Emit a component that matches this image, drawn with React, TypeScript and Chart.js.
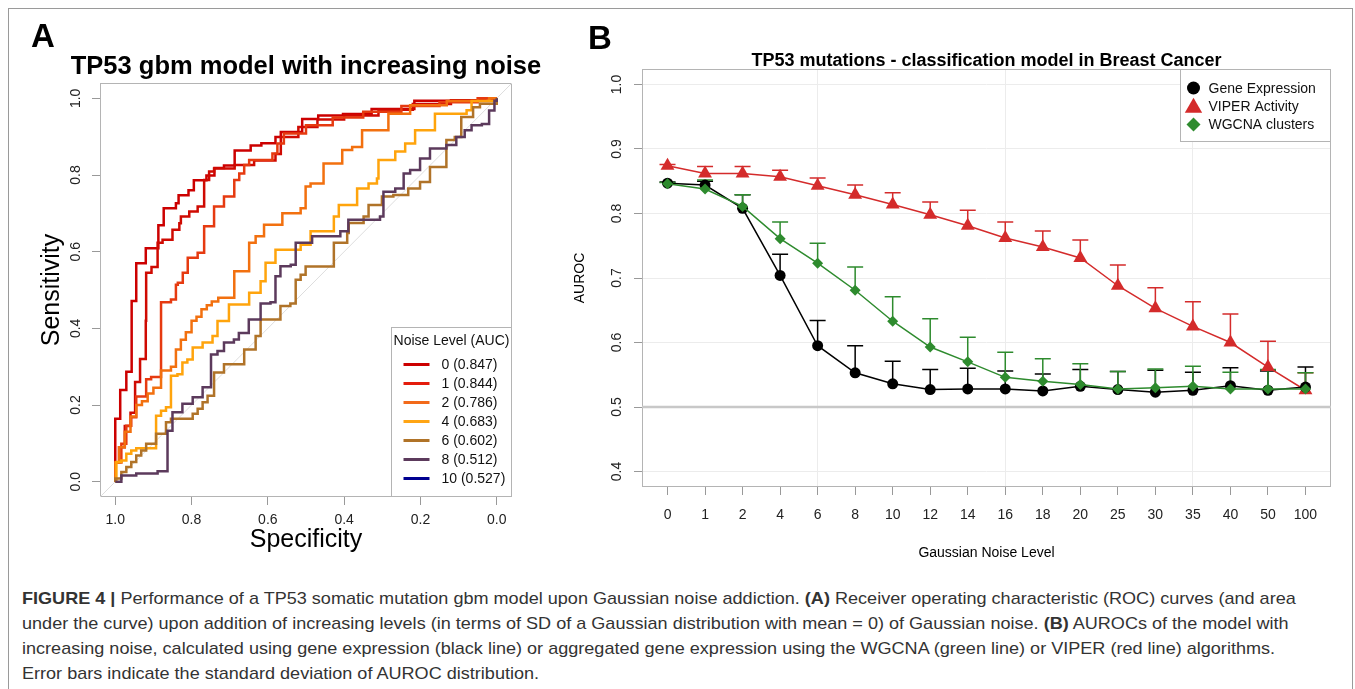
import React, { useEffect, useLayoutEffect, useRef, useState } from 'react';
import { Chart, registerables } from 'chart.js';

Chart.register(...registerables);

const FONT = '"Liberation Sans", Arial, Helvetica, sans-serif';
Chart.defaults.font.family = FONT;

// ---------------- Panel A data (ROC curves: [specificity, sensitivity]) ----------------
const specTicks = [0, 0.2, 0.4, 0.6, 0.8, 1.0];
const sensTicks = [0, 0.2, 0.4, 0.6, 0.8, 1.0];
const noiseLevelsA = ['0', '1', '2', '4', '6', '8', '10'];
const aucA = ['0.847', '0.844', '0.786', '0.683', '0.602', '0.512', '0.527'];
const legendColorsA = ['#CC0000', '#E41C0C', '#F26A1A', '#FFA514', '#B07328', '#5C3A5C', '#000090'];
const curveColorsA = ['#CC0000', '#CF0A02', '#E63A10', '#F2700F', '#FFA40C', '#B07328', '#5C3A5C'];

const roc0 = [[1, 0], [1, 0.164], [0.987, 0.239], [0.971, 0.287], [0.957, 0.471], [0.945, 0.57], [0.92, 0.609], [0.887, 0.669], [0.873, 0.713], [0.841, 0.726], [0.834, 0.747], [0.808, 0.76], [0.794, 0.786], [0.761, 0.799], [0.74, 0.818], [0.715, 0.825], [0.687, 0.864], [0.645, 0.877], [0.617, 0.883], [0.58, 0.899], [0.566, 0.912], [0.51, 0.946], [0.468, 0.955], [0.403, 0.959], [0.328, 0.972], [0.216, 0.994], [0.011, 1], [0, 1]];
const roc1 = [[1, 0], [1, 0.05], [0.99, 0.09], [0.975, 0.145], [0.96, 0.18], [0.948, 0.26], [0.935, 0.32], [0.92, 0.42], [0.919, 0.545], [0.905, 0.56], [0.889, 0.623], [0.876, 0.631], [0.85, 0.657], [0.832, 0.674], [0.828, 0.692], [0.806, 0.705], [0.784, 0.718], [0.767, 0.787], [0.754, 0.809], [0.741, 0.817], [0.687, 0.826], [0.636, 0.838], [0.58, 0.855], [0.566, 0.899], [0.52, 0.925], [0.47, 0.945], [0.4, 0.955], [0.31, 0.97], [0.22, 0.985], [0.12, 0.995], [0.03, 1], [0, 1]];
const roc2 = [[1, 0], [1, 0.05], [0.984, 0.099], [0.971, 0.146], [0.958, 0.168], [0.945, 0.222], [0.919, 0.267], [0.906, 0.273], [0.88, 0.468], [0.854, 0.475], [0.841, 0.514], [0.836, 0.519], [0.823, 0.545], [0.81, 0.584], [0.784, 0.597], [0.767, 0.666], [0.741, 0.718], [0.715, 0.744], [0.688, 0.787], [0.675, 0.804], [0.662, 0.826], [0.649, 0.839], [0.588, 0.856], [0.575, 0.882], [0.558, 0.908], [0.5, 0.93], [0.43, 0.95], [0.35, 0.965], [0.25, 0.98], [0.15, 0.99], [0.05, 1], [0, 1]];
const roc4 = [[1, 0], [1, 0.05], [0.99, 0.09], [0.975, 0.13], [0.96, 0.17], [0.945, 0.2], [0.93, 0.21], [0.915, 0.23], [0.9, 0.245], [0.88, 0.29], [0.854, 0.3], [0.841, 0.345], [0.828, 0.37], [0.815, 0.39], [0.8, 0.42], [0.787, 0.43], [0.774, 0.45], [0.76, 0.46], [0.747, 0.47], [0.73, 0.48], [0.688, 0.549], [0.649, 0.623], [0.632, 0.64], [0.61, 0.67], [0.562, 0.7], [0.514, 0.713], [0.501, 0.77], [0.488, 0.778], [0.454, 0.83], [0.405, 0.865], [0.379, 0.873], [0.353, 0.917], [0.284, 0.96], [0.227, 0.982], [0.131, 0.993], [0.02, 1], [0, 1]];
const roc6 = [[1, 0], [0.997, 0.051], [0.984, 0.055], [0.971, 0.073], [0.958, 0.081], [0.945, 0.087], [0.893, 0.172], [0.88, 0.185], [0.867, 0.194], [0.854, 0.276], [0.837, 0.28], [0.824, 0.311], [0.811, 0.319], [0.797, 0.35], [0.771, 0.363], [0.745, 0.38], [0.732, 0.419], [0.702, 0.462], [0.649, 0.493], [0.619, 0.523], [0.606, 0.571], [0.58, 0.605], [0.514, 0.618], [0.488, 0.653], [0.427, 0.692], [0.414, 0.722], [0.366, 0.765], [0.336, 0.778], [0.314, 0.791], [0.31, 0.839], [0.266, 0.861], [0.24, 0.882], [0.214, 0.917], [0.162, 0.96], [0.079, 0.969], [0.066, 0.993], [0, 1]];
const roc8 = [[1, 0], [1, 0.008], [0.984, 0.025], [0.971, 0.038], [0.958, 0.051], [0.945, 0.068], [0.932, 0.081], [0.919, 0.099], [0.893, 0.125], [0.867, 0.155], [0.854, 0.164], [0.797, 0.177], [0.784, 0.19], [0.771, 0.207], [0.758, 0.224], [0.741, 0.285], [0.715, 0.306], [0.662, 0.345], [0.632, 0.38], [0.619, 0.423], [0.567, 0.458], [0.541, 0.465], [0.527, 0.527], [0.514, 0.54], [0.501, 0.561], [0.427, 0.623], [0.392, 0.649], [0.388, 0.675], [0.349, 0.692], [0.336, 0.722], [0.301, 0.744], [0.271, 0.748], [0.232, 0.765], [0.201, 0.782], [0.175, 0.821], [0.132, 0.891], [0.11, 0.899], [0.093, 0.951], [0.062, 0.977], [0.044, 0.986], [0, 1]];
const roc10 = [[1, 0], [0.984, 0.016], [0.945, 0.021], [0.889, 0.027], [0.863, 0.133], [0.85, 0.181], [0.824, 0.203], [0.797, 0.22], [0.771, 0.246], [0.749, 0.332], [0.732, 0.341], [0.715, 0.363], [0.689, 0.371], [0.676, 0.388], [0.65, 0.423], [0.619, 0.465], [0.593, 0.468], [0.58, 0.536], [0.567, 0.562], [0.54, 0.566], [0.527, 0.623], [0.484, 0.64], [0.41, 0.653], [0.389, 0.683], [0.306, 0.692], [0.297, 0.756], [0.266, 0.765], [0.244, 0.804], [0.227, 0.813], [0.201, 0.843], [0.175, 0.869], [0.132, 0.878], [0.106, 0.899], [0.084, 0.917], [0.066, 0.93], [0.039, 0.933], [0.02, 0.968], [0.006, 0.994], [0, 1]];
const rocCurves = [roc0, roc1, roc2, roc4, roc6, roc8, roc10];
const diagonal = [[1.04, -0.04], [-0.04, 1.04]];

// ---------------- Panel B data ----------------
const noiseLevelsB = ['0', '1', '2', '4', '6', '8', '10', '12', '14', '16', '18', '20', '25', '30', '35', '40', '50', '100'];
const aurocTicks = [0.4, 0.5, 0.6, 0.7, 0.8, 0.9, 1.0];
const geneExpr = [0.847, 0.844, 0.808, 0.704, 0.595, 0.553, 0.536, 0.527, 0.528, 0.528, 0.525, 0.532, 0.527, 0.523, 0.526, 0.533, 0.526, 0.531];
const geneExprSd = [0.002, 0.006, 0.021, 0.033, 0.039, 0.042, 0.035, 0.031, 0.032, 0.028, 0.026, 0.026, 0.028, 0.034, 0.028, 0.028, 0.03, 0.031];
const viper = [0.874, 0.862, 0.862, 0.857, 0.843, 0.829, 0.814, 0.798, 0.781, 0.762, 0.748, 0.731, 0.688, 0.653, 0.625, 0.6, 0.562, 0.526];
const viperSd = [0.002, 0.011, 0.011, 0.01, 0.012, 0.015, 0.018, 0.02, 0.024, 0.025, 0.025, 0.028, 0.032, 0.032, 0.038, 0.044, 0.04, 0.027];
const wgcna = [0.846, 0.838, 0.811, 0.761, 0.723, 0.681, 0.633, 0.593, 0.57, 0.546, 0.54, 0.535, 0.528, 0.53, 0.532, 0.528, 0.528, 0.528];
const wgcnaSd = [0.002, 0.014, 0.018, 0.026, 0.031, 0.036, 0.038, 0.044, 0.038, 0.039, 0.035, 0.032, 0.027, 0.029, 0.031, 0.026, 0.03, 0.025];
const seriesNamesB = ['Gene Expression', 'VIPER Activity', 'WGCNA clusters'];
const seriesColorsB = ['#000000', '#D42B2B', '#2E8B2E'];
const seriesStylesB = ['circle', 'triangle', 'rectRot'];

const captionLines = [
  [['FIGURE 4 | ', true], ['Performance of a TP53 somatic mutation gbm model upon Gaussian noise addiction. ', false], ['(A)', true], [' Receiver operating characteristic (ROC) curves (and area', false]],
  [['under the curve) upon addition of increasing levels (in terms of SD of a Gaussian distribution with mean = 0) of Gaussian noise. ', false], ['(B)', true], [' AUROCs of the model with', false]],
  [['increasing noise, calculated using gene expression (black line) or aggregated gene expression using the WGCNA (green line) or VIPER (red line) algorithms.', false]],
  [['Error bars indicate the standard deviation of AUROC distribution.', false]],
] as [string, boolean][][];

function drawMarker(ctx: CanvasRenderingContext2D, style: string, x: number, y: number, r: number, color: string) {
  ctx.fillStyle = color;
  ctx.beginPath();
  if (style === 'circle') {
    ctx.arc(x, y, r, 0, Math.PI * 2);
  } else if (style === 'triangle') {
    for (let k = 0; k < 3; k++) {
      const a = (k * 2 * Math.PI) / 3;
      const px = x + Math.sin(a) * r;
      const py = y - Math.cos(a) * r;
      if (k === 0) ctx.moveTo(px, py); else ctx.lineTo(px, py);
    }
    ctx.closePath();
  } else {
    ctx.moveTo(x - r, y); ctx.lineTo(x, y - r); ctx.lineTo(x + r, y); ctx.lineTo(x, y + r); ctx.closePath();
  }
  ctx.fill();
}

const boxPlugin = {
  id: 'plotBox',
  beforeDatasetsDraw(chart: any) {
    const { ctx, chartArea: a } = chart;
    ctx.save();
    ctx.strokeStyle = '#B4B4B4';
    ctx.lineWidth = 1;
    ctx.strokeRect(Math.round(a.left) + 0.5, Math.round(a.top) + 0.5, Math.round(a.right - a.left) - 1, Math.round(a.bottom - a.top) - 1);
    ctx.restore();
  },
};

function rotatedYLabels(offset: number, size: number) {
  return {
    id: 'rotatedYLabels',
    afterDraw(chart: any) {
      const sc = chart.scales.y;
      const ctx = chart.ctx;
      ctx.save();
      ctx.font = `${size}px ${FONT}`;
      ctx.fillStyle = '#222';
      ctx.textAlign = 'center';
      ctx.textBaseline = 'middle';
      for (const t of sc.ticks) {
        const py = sc.getPixelForValue(t.value);
        ctx.save();
        ctx.translate(chart.chartArea.left - offset, py);
        ctx.rotate(-Math.PI / 2);
        ctx.fillText(Number(t.value).toFixed(1), 0, 0);
        ctx.restore();
      }
      ctx.restore();
    },
  };
}

const legendAPlugin = {
  id: 'legendA',
  afterDraw(chart: any) {
    const { ctx, chartArea: a } = chart;
    const right = Math.round(a.right) - 0.5;
    const bottom = Math.round(a.bottom) - 0.5;
    const left = right - 120;
    const top = bottom - 169;
    ctx.save();
    ctx.fillStyle = '#fff';
    ctx.fillRect(left, top, right - left, bottom - top);
    ctx.strokeStyle = '#B4B4B4';
    ctx.lineWidth = 1;
    ctx.strokeRect(left, top, right - left, bottom - top);
    ctx.font = `14px ${FONT}`;
    ctx.fillStyle = '#111';
    ctx.textBaseline = 'middle';
    ctx.textAlign = 'center';
    ctx.fillText('Noise Level (AUC)', (left + right) / 2, top + 14);
    ctx.textAlign = 'left';
    noiseLevelsA.forEach((lv, i) => {
      const y = top + 37 + i * 19;
      ctx.strokeStyle = legendColorsA[i];
      ctx.lineWidth = 3;
      ctx.beginPath();
      ctx.moveTo(left + 12, y);
      ctx.lineTo(left + 38, y);
      ctx.stroke();
      ctx.fillText(`${lv} (${aucA[i]})`, left + 50, y + 1);
    });
    ctx.restore();
  },
};

const errorBarPlugin = {
  id: 'errorBars',
  beforeDatasetsDraw(chart: any) {
    const { ctx } = chart;
    const xs = chart.scales.x;
    const ys = chart.scales.y;
    const sets = [
      { v: viper, sd: viperSd, c: seriesColorsB[1] },
      { v: geneExpr, sd: geneExprSd, c: seriesColorsB[0] },
      { v: wgcna, sd: wgcnaSd, c: seriesColorsB[2] },
    ];
    ctx.save();
    // reference line at 0.5
    const y5 = ys.getPixelForValue(0.5);
    ctx.strokeStyle = '#C8C8C8';
    ctx.lineWidth = 2.5;
    ctx.beginPath();
    ctx.moveTo(chart.chartArea.left, y5);
    ctx.lineTo(chart.chartArea.right, y5);
    ctx.stroke();
    ctx.lineWidth = 1.5;
    for (const s of sets) {
      ctx.strokeStyle = s.c;
      s.v.forEach((val, i) => {
        const px = xs.getPixelForValue(i + 1);
        const p0 = ys.getPixelForValue(val);
        const p1 = ys.getPixelForValue(val + s.sd[i]);
        ctx.beginPath();
        ctx.moveTo(px, p0);
        ctx.lineTo(px, p1);
        ctx.moveTo(px - 8, p1);
        ctx.lineTo(px + 8, p1);
        ctx.stroke();
      });
    }
    ctx.restore();
  },
};

const legendBPlugin = {
  id: 'legendB',
  afterDraw(chart: any) {
    const { ctx, chartArea: a } = chart;
    const right = Math.round(a.right) - 0.5;
    const top = Math.round(a.top) + 0.5;
    const left = right - 150;
    const bottom = top + 72;
    ctx.save();
    ctx.fillStyle = '#fff';
    ctx.fillRect(left, top, right - left, bottom - top);
    ctx.strokeStyle = '#B4B4B4';
    ctx.lineWidth = 1;
    ctx.strokeRect(left, top, right - left, bottom - top);
    ctx.font = `14px ${FONT}`;
    ctx.textBaseline = 'middle';
    ctx.textAlign = 'left';
    const radii = [6.5, 10, 7];
    seriesNamesB.forEach((name, i) => {
      const y = top + 18.5 + i * 18.3;
      drawMarker(ctx, seriesStylesB[i], left + 13, y + (i === 1 ? 1.5 : 0), radii[i], seriesColorsB[i]);
      ctx.fillStyle = '#111';
      ctx.fillText(name, left + 28, y + 1);
    });
    ctx.restore();
  },
};

function Txt(props: { x: number; base: number; size: number; bold?: boolean; center?: boolean; children: any }) {
  const { x, base, size, bold, center, children } = props;
  return (
    <div
      style={{
        position: 'absolute',
        left: x,
        top: base - 0.8465 * size,
        fontSize: size,
        lineHeight: `${size}px`,
        fontWeight: bold ? 'bold' : 'normal',
        fontFamily: FONT,
        whiteSpace: 'nowrap',
        color: '#000',
        transform: center ? 'translateX(-50%)' : undefined,
      }}
    >
      {children}
    </div>
  );
}

function VTxt(props: { cx: number; cy: number; size: number; children: any }) {
  const { cx, cy, size, children } = props;
  return (
    <div
      style={{
        position: 'absolute',
        left: cx,
        top: cy,
        fontSize: size,
        lineHeight: `${size}px`,
        fontFamily: FONT,
        whiteSpace: 'nowrap',
        color: '#000',
        transform: 'translate(-50%, -50%) rotate(-90deg)',
      }}
    >
      {children}
    </div>
  );
}

export default function App() {
  const aRef = useRef<HTMLCanvasElement>(null);
  const bRef = useRef<HTMLCanvasElement>(null);
  const cap1Ref = useRef<HTMLSpanElement>(null);
  const [capScale, setCapScale] = useState(0.9);

  useLayoutEffect(() => {
    const el = cap1Ref.current;
    if (el) {
      const w = el.offsetWidth;
      if (w > 0) setCapScale(1274 / w);
    }
  }, []);

  useEffect(() => {
    if (!aRef.current || !bRef.current) return;
    const chartA = new Chart(aRef.current, {
      type: 'line',
      data: {
        datasets: [
          ...rocCurves.map((curve, i) => ({
            label: noiseLevelsA[i],
            data: curve.map(([x, y]) => ({ x, y })),
            borderColor: curveColorsA[i],
            borderWidth: 2.5,
            pointRadius: 0,
            stepped: 'before' as const,
            fill: false,
            order: -i,
          })),
          {
            label: 'diag',
            data: diagonal.map(([x, y]) => ({ x, y })),
            borderColor: '#DDDDDD',
            borderWidth: 1,
            pointRadius: 0,
            fill: false,
            order: 100,
          },
        ],
      },
      options: {
        animation: false,
        responsive: false,
        devicePixelRatio: 1,
        events: [],
        layout: { padding: { left: 60, right: 48, top: 83, bottom: 33 } },
        plugins: { legend: { display: false }, tooltip: { enabled: false } },
        scales: {
          x: {
            type: 'linear',
            reverse: true,
            min: -0.04,
            max: 1.04,
            afterBuildTicks: (s: any) => { s.ticks = specTicks.map((v) => ({ value: v })); },
            afterFit: (s: any) => { s.height = 40; },
            ticks: { autoSkip: false, maxRotation: 0, padding: 7, color: '#222', font: { size: 14 }, callback: (v: any) => Number(v).toFixed(1) },
            grid: { drawOnChartArea: false, drawTicks: true, tickLength: 8, tickColor: '#999', color: '#999' },
            border: { display: false },
          },
          y: {
            type: 'linear',
            min: -0.04,
            max: 1.04,
            afterBuildTicks: (s: any) => { s.ticks = sensTicks.map((v) => ({ value: v })); },
            afterFit: (s: any) => { s.width = 40; },
            ticks: { display: false },
            grid: { drawOnChartArea: false, drawTicks: true, tickLength: 8, tickColor: '#999', color: '#999' },
            border: { display: false },
          },
        },
      } as any,
      plugins: [boxPlugin, rotatedYLabels(23.5, 14), legendAPlugin],
    });

    const radiiB = [5.5, 8, 5.5];
    const ordersB = [1, 2, 0];
    const valuesB = [geneExpr, viper, wgcna];
    const chartB = new Chart(bRef.current, {
      type: 'line',
      data: {
        datasets: valuesB.map((vals, k) => ({
          label: seriesNamesB[k],
          data: vals.map((v, i) => ({ x: i + 1, y: v })),
          borderColor: seriesColorsB[k],
          backgroundColor: seriesColorsB[k],
          borderWidth: 1.5,
          pointStyle: seriesStylesB[k],
          pointRadius: radiiB[k],
          pointBorderWidth: 0,
          fill: false,
          order: ordersB[k],
        })),
      },
      options: {
        animation: false,
        responsive: false,
        devicePixelRatio: 1,
        events: [],
        layout: { padding: { left: 42, right: 24, top: 69, bottom: 33 } },
        plugins: { legend: { display: false }, tooltip: { enabled: false } },
        scales: {
          x: {
            type: 'linear',
            min: 0.32,
            max: 18.68,
            afterBuildTicks: (s: any) => { s.ticks = noiseLevelsB.map((_, i) => ({ value: i + 1 })); },
            afterFit: (s: any) => { s.height = 50; },
            ticks: { autoSkip: false, maxRotation: 0, padding: 12, color: '#222', font: { size: 14 }, callback: (v: any) => noiseLevelsB[Math.round(v) - 1] },
            grid: {
              drawOnChartArea: true,
              drawTicks: true,
              tickLength: 8,
              tickColor: '#999',
              color: (c: any) => (c.tick && Math.round(c.tick.value) % 5 === 0 ? '#ECECEC' : 'rgba(0,0,0,0)'),
            },
            border: { display: false },
          },
          y: {
            type: 'linear',
            min: 0.376,
            max: 1.024,
            afterBuildTicks: (s: any) => { s.ticks = aurocTicks.map((v) => ({ value: v })); },
            afterFit: (s: any) => { s.width = 40; },
            ticks: { display: false },
            grid: { drawOnChartArea: true, drawTicks: true, tickLength: 8, tickColor: '#999', color: '#ECECEC' },
            border: { display: false },
          },
        },
      } as any,
      plugins: [boxPlugin, errorBarPlugin, rotatedYLabels(25, 14), legendBPlugin],
    });

    return () => {
      chartA.destroy();
      chartB.destroy();
    };
  }, []);

  return (
    <div style={{ position: 'absolute', left: 0, top: 0, width: 1355, height: 689, overflow: 'hidden', background: '#fff', fontFamily: FONT }}>
      <div style={{ position: 'absolute', left: 8, top: 8, width: 1345, height: 760, border: '1px solid #9a9a9a', boxSizing: 'border-box' }} />
      <canvas ref={aRef} width={560} height={570} style={{ position: 'absolute', left: 0, top: 0 }} />
      <canvas ref={bRef} width={795} height={570} style={{ position: 'absolute', left: 560, top: 0 }} />

      <Txt x={31} base={47} size={33} bold>A</Txt>
      <Txt x={588} base={49} size={33} bold>B</Txt>
      <Txt x={306} base={75} size={25.5} bold center>TP53 gbm model with increasing noise</Txt>
      <Txt x={306} base={547} size={25} center>Specificity</Txt>
      <VTxt cx={50} cy={290} size={25}>Sensitivity</VTxt>

      <Txt x={986.5} base={66} size={18} bold center>TP53 mutations - classification model in Breast Cancer</Txt>
      <Txt x={986.5} base={557} size={14} center>Gaussian Noise Level</Txt>
      <VTxt cx={579} cy={278} size={14}>AUROC</VTxt>

      <div
        style={{
          position: 'absolute',
          left: 22,
          top: 586,
          fontSize: 17,
          lineHeight: '25px',
          fontFamily: FONT,
          color: '#333',
          whiteSpace: 'nowrap',
          transform: `scaleX(${capScale})`,
          transformOrigin: '0 0',
        }}
      >
        {captionLines.map((line, li) => (
          <div key={li}>
            <span ref={li === 0 ? cap1Ref : undefined}>
              {line.map(([t, b], k) => (
                <span key={k} style={{ fontWeight: b ? 'bold' : 'normal' }}>{t}</span>
              ))}
            </span>
          </div>
        ))}
      </div>
    </div>
  );
}
